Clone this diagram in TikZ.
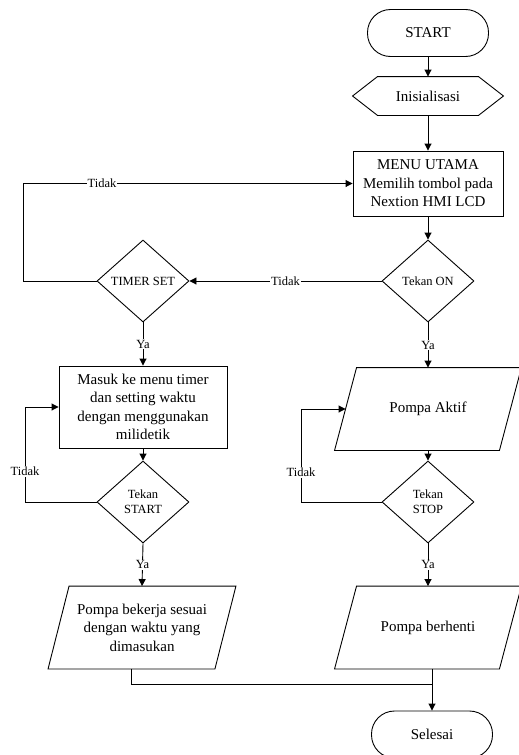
\documentclass[tikz,border=0pt]{standalone}
\usepackage{fontspec}
\setmainfont{Liberation Serif}
\usetikzlibrary{
	shapes.geometric,   %belah ketupat
	positioning,
	arrows.meta         %ujung panah
}
\newcommand\hurufutama{\fontsize{15}{18.5}\selectfont}
\newcommand\hurufkecil{\fontsize{12.5}{15}\selectfont}
% jajar genjang di sekeliling node
\newcommand\jajar[2]{\draw ([xshift=#2]#1.north west) -- ([xshift=#2]#1.north east)
	-- ([xshift=-#2]#1.south east) -- ([xshift=-#2]#1.south west) -- cycle;}
\tikzset{
	every picture/.style={
		>={Triangle[length=7pt,width=7pt]},
		line width=0.9pt
	},
	terminal/.style={rectangle, draw, rounded corners=23pt,
		minimum width=121pt, minimum height=47pt, font=\hurufutama},
	proses/.style={rectangle, draw, align=center, inner sep=2pt, font=\hurufutama},
	keputusan/.style={diamond, draw, align=center, inner sep=0pt,
		minimum width=92pt, minimum height=82pt, font=\hurufkecil},
	masukan/.style={rectangle, align=center, minimum height=82pt, font=\hurufutama},
	persiapan/.style={rectangle, minimum width=150pt, minimum height=38pt, font=\hurufutama},
	ket/.style={fill=white, inner sep=1pt, font=\hurufkecil}
}

\begin{document}
\begin{tikzpicture}[x=1pt,y=-1pt]
\useasboundingbox (0,0) rectangle (519,755);

% kolom kanan
\node[terminal] (mulai) at (428,33) {START};
\node[persiapan] (ini) at (428,96) {Inisialisasi};
\draw (ini.west) -- ([xshift=25pt]ini.north west) -- ([xshift=-25pt]ini.north east)
	-- (ini.east) -- ([xshift=-25pt]ini.south east) -- ([xshift=25pt]ini.south west) -- cycle;
\node[proses, minimum width=150pt, minimum height=65pt] (menu) at (428,183.5)
	{MENU UTAMA\\Memilih tombol pada\\Nextion HMI LCD};
\node[keputusan] (on) at (428,281) {Tekan ON};
\node[masukan, minimum width=164pt] (aktif) at (428,409) {Pompa Aktif};
\jajar{aktif}{11pt}
\node[keputusan] (stop) at (428,502) {Tekan\\STOP};
\node[masukan, minimum width=164pt] (henti) at (428,627.5) {Pompa berhenti};
\jajar{henti}{11pt}
\node[terminal] (selesai) at (432,734.5) {Selesai};

% kolom kiri
\node[keputusan] (timer) at (143,281) {TIMER SET};
\node[proses, minimum width=168pt, minimum height=82pt] (masuk) at (143,407)
	{Masuk ke menu timer\\dan setting waktu\\dengan menggunakan\\milidetik};
\node[keputusan] (tstart) at (143,502) {Tekan\\START};
\node[masukan, minimum width=166pt] (kerja) at (142,627.5)
	{Pompa bekerja sesuai\\dengan waktu yang\\dimasukan};
\jajar{kerja}{10.5pt}

\coordinate (kiri1) at (23,281);
\coordinate (kiri2) at (25,502);
\coordinate (kiri3) at (301,502);
\coordinate (gabung) at (432,684);

% panah
\draw[->] (mulai) -- (ini);
\draw[->] (ini) -- (menu);
\draw[->] (menu) -- (on);
\draw[->] (on.west) -- node[ket]{Tidak} (timer.east);
\draw[->] (timer.west) -- (kiri1) |- node[ket,pos=0.62]{Tidak} (menu.west);
\draw[->] (timer.south) -- node[ket]{Ya} (masuk.north);
\draw[->] (on.south) -- node[ket]{Ya} (aktif.north);
\draw[->] (masuk) -- (tstart);
\draw[->] (aktif) -- (stop);
\draw[->] (tstart.west) -- (kiri2) |- node[ket,pos=0.16]{Tidak} (masuk.west);
\draw[->] (stop.west) -- (kiri3) |- node[ket,pos=0.16]{Tidak} (aktif.west);
\draw[->] (tstart.south) -- node[ket]{Ya} (kerja.north);
\draw[->] (stop.south) -- node[ket]{Ya} (henti.north);
\draw ([xshift=-10.5pt]kerja.south) |- (gabung);
\draw[->] (henti.south -| selesai.north) -- (selesai.north);
\end{tikzpicture}
\end{document}
